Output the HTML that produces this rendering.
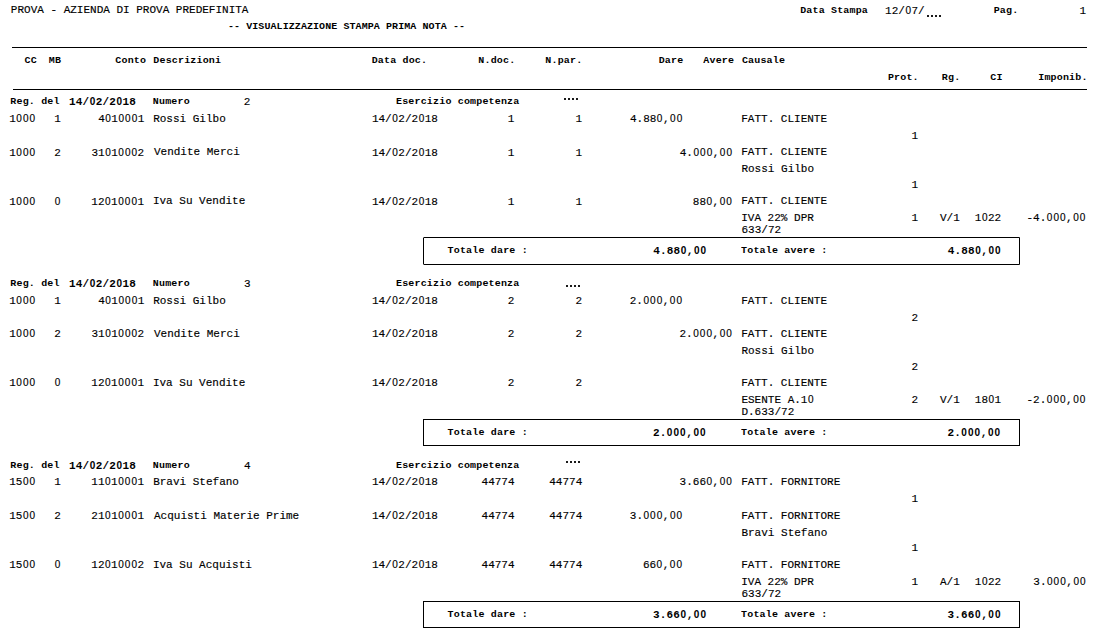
<!DOCTYPE html>
<html><head><meta charset="utf-8"><style>
html,body{margin:0;padding:0;background:#fff;width:1111px;height:634px;overflow:hidden}
body{position:relative;font-family:"Liberation Mono",monospace;color:#000}
.t{position:absolute;white-space:pre;line-height:14px;height:14px}
.r{font-size:11px;-webkit-text-stroke:0.15px #000}
.B{font-size:11px;font-weight:bold;letter-spacing:0.14px}
.b{font-size:10px;font-weight:bold;letter-spacing:0.17px;transform:scaleY(0.87);transform-origin:0 9px}
.b2{font-size:10px;font-weight:bold;letter-spacing:0.08px;transform:scaleY(0.87);transform-origin:0 9px}
.s{font-size:11px;font-family:"Liberation Sans",sans-serif}
.z{display:inline-block;width:6.6px;vertical-align:top;text-align:center;font-family:"Liberation Sans",sans-serif;font-size:10px}
.l{position:absolute;height:1px;background:#000}
.d{position:absolute;width:2px;height:2px;background:#1a1a1a}
.x{position:absolute;border:1px solid #000;border-radius:1px;box-sizing:border-box}
</style></head><body>
<div class="t r" style="left:10.83px;top:3px">PROVA - AZIENDA DI PROVA PREDEFINITA</div>
<div class="t b" style="left:800.14px;top:4px">Data Stampa</div>
<div class="t r" style="left:885.11px;top:4px">12/<span class="z">0</span>7/</div>
<div class="t b" style="left:993.64px;top:4px">Pag.</div>
<div class="t r" style="left:1079.61px;top:4px">1</div>
<div class="t b2" style="left:227.92px;top:20px">-- VISUALIZZAZIONE STAMPA PRIMA NOTA --</div>
<div class="t b" style="left:24.61px;top:54px">CC</div>
<div class="t b" style="left:48.82px;top:54px">MB</div>
<div class="t b" style="left:115.31px;top:54px">Conto</div>
<div class="t b" style="left:153.34px;top:54px">Descrizioni</div>
<div class="t b" style="left:371.64px;top:54px">Data doc.</div>
<div class="t b" style="left:478.34px;top:54px">N.doc.</div>
<div class="t b" style="left:545.34px;top:54px">N.par.</div>
<div class="t b" style="left:658.64px;top:54px">Dare</div>
<div class="t b" style="left:703.30px;top:54px">Avere</div>
<div class="t b" style="left:741.91px;top:54px">Causale</div>
<div class="t b" style="left:887.94px;top:71px">Prot.</div>
<div class="t b" style="left:941.83px;top:71px">Rg.</div>
<div class="t b" style="left:990.31px;top:71px">CI</div>
<div class="t b" style="left:1038.23px;top:71px">Imponib.</div>
<div class="t b" style="left:10.33px;top:95px">Reg. del</div>
<div class="t B" style="left:68.96px;top:95px">14/<span class="z">0</span>2/2<span class="z">0</span>18</div>
<div class="t b" style="left:152.84px;top:95px">Numero</div>
<div class="t r" style="left:243.83px;top:95px">2</div>
<div class="t b" style="left:396.03px;top:95px">Esercizio competenza</div>
<div class="t r" style="left:9.21px;top:112px">1<span class="z">0</span><span class="z">0</span><span class="z">0</span></div>
<div class="t r" style="left:54.21px;top:112px">1</div>
<div class="t r" style="left:98.15px;top:112px">4<span class="z">0</span>1<span class="z">0</span><span class="z">0</span><span class="z">0</span>1</div>
<div class="t r" style="left:153.13px;top:112px">Rossi Gilbo</div>
<div class="t r" style="left:371.91px;top:112px">14/<span class="z">0</span>2/2<span class="z">0</span>18</div>
<div class="t r" style="left:507.71px;top:112px">1</div>
<div class="t r" style="left:575.41px;top:112px">1</div>
<div class="t r" style="left:629.95px;top:112px">4.88<span class="z">0</span>,<span class="z">0</span><span class="z">0</span></div>
<div class="t r" style="left:741.26px;top:112px">FATT. CLIENTE</div>
<div class="t r" style="left:9.21px;top:146px">1<span class="z">0</span><span class="z">0</span><span class="z">0</span></div>
<div class="t r" style="left:54.23px;top:146px">2</div>
<div class="t r" style="left:91.41px;top:146px">31<span class="z">0</span>1<span class="z">0</span><span class="z">0</span><span class="z">0</span>2</div>
<div class="t r" style="left:153.95px;top:145px">Vendite Merci</div>
<div class="t r" style="left:371.91px;top:146px">14/<span class="z">0</span>2/2<span class="z">0</span>18</div>
<div class="t r" style="left:507.71px;top:146px">1</div>
<div class="t r" style="left:575.41px;top:146px">1</div>
<div class="t r" style="left:679.75px;top:146px">4.<span class="z">0</span><span class="z">0</span><span class="z">0</span>,<span class="z">0</span><span class="z">0</span></div>
<div class="t r" style="left:741.26px;top:145px">FATT. CLIENTE</div>
<div class="t r" style="left:9.21px;top:195px">1<span class="z">0</span><span class="z">0</span><span class="z">0</span></div>
<div class="t r" style="left:54.33px;top:195px"><span class="z">0</span></div>
<div class="t r" style="left:91.31px;top:195px">12<span class="z">0</span>1<span class="z">0</span><span class="z">0</span><span class="z">0</span>1</div>
<div class="t r" style="left:152.92px;top:194px">Iva Su Vendite</div>
<div class="t r" style="left:371.91px;top:195px">14/<span class="z">0</span>2/2<span class="z">0</span>18</div>
<div class="t r" style="left:507.71px;top:195px">1</div>
<div class="t r" style="left:575.41px;top:195px">1</div>
<div class="t r" style="left:692.79px;top:195px">88<span class="z">0</span>,<span class="z">0</span><span class="z">0</span></div>
<div class="t r" style="left:741.26px;top:194px">FATT. CLIENTE</div>
<div class="t r" style="left:911.51px;top:129px">1</div>
<div class="t r" style="left:741.43px;top:162px">Rossi Gilbo</div>
<div class="t r" style="left:911.51px;top:178px">1</div>
<div class="t r" style="left:741.22px;top:211px">IVA 22% DPR</div>
<div class="t r" style="left:911.51px;top:211px">1</div>
<div class="t r" style="left:939.95px;top:211px">V/1</div>
<div class="t r" style="left:974.81px;top:211px">1<span class="z">0</span>22</div>
<div class="t r" style="left:1026.51px;top:211px">-4.<span class="z">0</span><span class="z">0</span><span class="z">0</span>,<span class="z">0</span><span class="z">0</span></div>
<div class="t r" style="left:741.49px;top:223px">633/72</div>
<div class="t b" style="left:447.60px;top:244px">Totale dare :</div>
<div class="t B" style="left:653.22px;top:244px">4.88<span class="z">0</span>,<span class="z">0</span><span class="z">0</span></div>
<div class="t b" style="left:741.10px;top:244px">Totale avere :</div>
<div class="t B" style="left:947.72px;top:244px">4.88<span class="z">0</span>,<span class="z">0</span><span class="z">0</span></div>
<div class="t b" style="left:10.33px;top:277px">Reg. del</div>
<div class="t B" style="left:68.96px;top:277px">14/<span class="z">0</span>2/2<span class="z">0</span>18</div>
<div class="t b" style="left:152.84px;top:277px">Numero</div>
<div class="t r" style="left:243.91px;top:277px">3</div>
<div class="t b" style="left:396.03px;top:277px">Esercizio competenza</div>
<div class="t r" style="left:9.21px;top:294px">1<span class="z">0</span><span class="z">0</span><span class="z">0</span></div>
<div class="t r" style="left:54.21px;top:294px">1</div>
<div class="t r" style="left:98.15px;top:294px">4<span class="z">0</span>1<span class="z">0</span><span class="z">0</span><span class="z">0</span>1</div>
<div class="t r" style="left:153.13px;top:294px">Rossi Gilbo</div>
<div class="t r" style="left:371.91px;top:294px">14/<span class="z">0</span>2/2<span class="z">0</span>18</div>
<div class="t r" style="left:507.73px;top:294px">2</div>
<div class="t r" style="left:575.43px;top:294px">2</div>
<div class="t r" style="left:629.73px;top:294px">2.<span class="z">0</span><span class="z">0</span><span class="z">0</span>,<span class="z">0</span><span class="z">0</span></div>
<div class="t r" style="left:741.26px;top:294px">FATT. CLIENTE</div>
<div class="t r" style="left:9.21px;top:327px">1<span class="z">0</span><span class="z">0</span><span class="z">0</span></div>
<div class="t r" style="left:54.23px;top:327px">2</div>
<div class="t r" style="left:91.41px;top:327px">31<span class="z">0</span>1<span class="z">0</span><span class="z">0</span><span class="z">0</span>2</div>
<div class="t r" style="left:153.95px;top:327px">Vendite Merci</div>
<div class="t r" style="left:371.91px;top:327px">14/<span class="z">0</span>2/2<span class="z">0</span>18</div>
<div class="t r" style="left:507.73px;top:327px">2</div>
<div class="t r" style="left:575.43px;top:327px">2</div>
<div class="t r" style="left:679.53px;top:327px">2.<span class="z">0</span><span class="z">0</span><span class="z">0</span>,<span class="z">0</span><span class="z">0</span></div>
<div class="t r" style="left:741.26px;top:327px">FATT. CLIENTE</div>
<div class="t r" style="left:9.21px;top:376px">1<span class="z">0</span><span class="z">0</span><span class="z">0</span></div>
<div class="t r" style="left:54.33px;top:376px"><span class="z">0</span></div>
<div class="t r" style="left:91.31px;top:376px">12<span class="z">0</span>1<span class="z">0</span><span class="z">0</span><span class="z">0</span>1</div>
<div class="t r" style="left:152.92px;top:376px">Iva Su Vendite</div>
<div class="t r" style="left:371.91px;top:376px">14/<span class="z">0</span>2/2<span class="z">0</span>18</div>
<div class="t r" style="left:507.73px;top:376px">2</div>
<div class="t r" style="left:575.43px;top:376px">2</div>
<div class="t r" style="left:741.26px;top:376px">FATT. CLIENTE</div>
<div class="t r" style="left:911.53px;top:311px">2</div>
<div class="t r" style="left:741.43px;top:344px">Rossi Gilbo</div>
<div class="t r" style="left:911.53px;top:360px">2</div>
<div class="t r" style="left:741.43px;top:393px">ESENTE A.1<span class="z">0</span></div>
<div class="t r" style="left:911.53px;top:393px">2</div>
<div class="t r" style="left:939.95px;top:393px">V/1</div>
<div class="t r" style="left:974.81px;top:393px">18<span class="z">0</span>1</div>
<div class="t r" style="left:1026.51px;top:393px">-2.<span class="z">0</span><span class="z">0</span><span class="z">0</span>,<span class="z">0</span><span class="z">0</span></div>
<div class="t r" style="left:741.43px;top:405px">D.633/72</div>
<div class="t b" style="left:447.60px;top:426px">Totale dare :</div>
<div class="t B" style="left:652.94px;top:426px">2.<span class="z">0</span><span class="z">0</span><span class="z">0</span>,<span class="z">0</span><span class="z">0</span></div>
<div class="t b" style="left:741.10px;top:426px">Totale avere :</div>
<div class="t B" style="left:947.44px;top:426px">2.<span class="z">0</span><span class="z">0</span><span class="z">0</span>,<span class="z">0</span><span class="z">0</span></div>
<div class="t b" style="left:10.33px;top:459px">Reg. del</div>
<div class="t B" style="left:68.96px;top:459px">14/<span class="z">0</span>2/2<span class="z">0</span>18</div>
<div class="t b" style="left:152.84px;top:459px">Numero</div>
<div class="t r" style="left:244.05px;top:459px">4</div>
<div class="t b" style="left:396.03px;top:459px">Esercizio competenza</div>
<div class="t r" style="left:9.21px;top:475px">15<span class="z">0</span><span class="z">0</span></div>
<div class="t r" style="left:54.21px;top:475px">1</div>
<div class="t r" style="left:91.31px;top:475px">11<span class="z">0</span>1<span class="z">0</span><span class="z">0</span><span class="z">0</span>1</div>
<div class="t r" style="left:153.13px;top:475px">Bravi Stefano</div>
<div class="t r" style="left:371.91px;top:475px">14/<span class="z">0</span>2/2<span class="z">0</span>18</div>
<div class="t r" style="left:481.55px;top:475px">44774</div>
<div class="t r" style="left:549.25px;top:475px">44774</div>
<div class="t r" style="left:679.61px;top:475px">3.66<span class="z">0</span>,<span class="z">0</span><span class="z">0</span></div>
<div class="t r" style="left:741.26px;top:475px">FATT. FORNITORE</div>
<div class="t r" style="left:9.21px;top:509px">15<span class="z">0</span><span class="z">0</span></div>
<div class="t r" style="left:54.23px;top:509px">2</div>
<div class="t r" style="left:91.33px;top:509px">21<span class="z">0</span>1<span class="z">0</span><span class="z">0</span><span class="z">0</span>1</div>
<div class="t r" style="left:154.00px;top:509px">Acquisti Materie Prime</div>
<div class="t r" style="left:371.91px;top:509px">14/<span class="z">0</span>2/2<span class="z">0</span>18</div>
<div class="t r" style="left:481.55px;top:509px">44774</div>
<div class="t r" style="left:549.25px;top:509px">44774</div>
<div class="t r" style="left:629.81px;top:509px">3.<span class="z">0</span><span class="z">0</span><span class="z">0</span>,<span class="z">0</span><span class="z">0</span></div>
<div class="t r" style="left:741.26px;top:509px">FATT. FORNITORE</div>
<div class="t r" style="left:9.21px;top:558px">15<span class="z">0</span><span class="z">0</span></div>
<div class="t r" style="left:54.33px;top:558px"><span class="z">0</span></div>
<div class="t r" style="left:91.31px;top:558px">12<span class="z">0</span>1<span class="z">0</span><span class="z">0</span><span class="z">0</span>2</div>
<div class="t r" style="left:152.92px;top:558px">Iva Su Acquisti</div>
<div class="t r" style="left:371.91px;top:558px">14/<span class="z">0</span>2/2<span class="z">0</span>18</div>
<div class="t r" style="left:481.55px;top:558px">44774</div>
<div class="t r" style="left:549.25px;top:558px">44774</div>
<div class="t r" style="left:642.89px;top:558px">66<span class="z">0</span>,<span class="z">0</span><span class="z">0</span></div>
<div class="t r" style="left:741.26px;top:558px">FATT. FORNITORE</div>
<div class="t r" style="left:911.51px;top:492px">1</div>
<div class="t r" style="left:741.43px;top:526px">Bravi Stefano</div>
<div class="t r" style="left:911.51px;top:541px">1</div>
<div class="t r" style="left:741.22px;top:575px">IVA 22% DPR</div>
<div class="t r" style="left:911.51px;top:575px">1</div>
<div class="t r" style="left:940.00px;top:575px">A/1</div>
<div class="t r" style="left:974.81px;top:575px">1<span class="z">0</span>22</div>
<div class="t r" style="left:1033.31px;top:575px">3.<span class="z">0</span><span class="z">0</span><span class="z">0</span>,<span class="z">0</span><span class="z">0</span></div>
<div class="t r" style="left:741.49px;top:587px">633/72</div>
<div class="t b" style="left:447.60px;top:608px">Totale dare :</div>
<div class="t B" style="left:653.10px;top:608px">3.66<span class="z">0</span>,<span class="z">0</span><span class="z">0</span></div>
<div class="t b" style="left:741.10px;top:608px">Totale avere :</div>
<div class="t B" style="left:947.60px;top:608px">3.66<span class="z">0</span>,<span class="z">0</span><span class="z">0</span></div>
<div class="l" style="left:12px;top:47px;width:1075px"></div>
<div class="l" style="left:13px;top:89px;width:1074px"></div>
<div class="x" style="left:423px;top:237px;width:597px;height:28px;border-radius:1px 0 0 1px"></div>
<div class="x" style="left:423px;top:419px;width:597px;height:27px;border-radius:0"></div>
<div class="x" style="left:423px;top:601px;width:597px;height:27px;border-radius:0"></div>
<div class="d" style="left:927px;top:15px"></div>
<div class="d" style="left:931px;top:15px"></div>
<div class="d" style="left:935px;top:15px"></div>
<div class="d" style="left:939px;top:15px"></div>
<div class="d" style="left:564px;top:98px"></div>
<div class="d" style="left:568px;top:98px"></div>
<div class="d" style="left:572px;top:98px"></div>
<div class="d" style="left:576px;top:98px"></div>
<div class="d" style="left:566px;top:285px"></div>
<div class="d" style="left:570px;top:285px"></div>
<div class="d" style="left:574px;top:285px"></div>
<div class="d" style="left:578px;top:285px"></div>
<div class="d" style="left:566px;top:461px"></div>
<div class="d" style="left:570px;top:461px"></div>
<div class="d" style="left:574px;top:461px"></div>
<div class="d" style="left:578px;top:461px"></div>
</body></html>
